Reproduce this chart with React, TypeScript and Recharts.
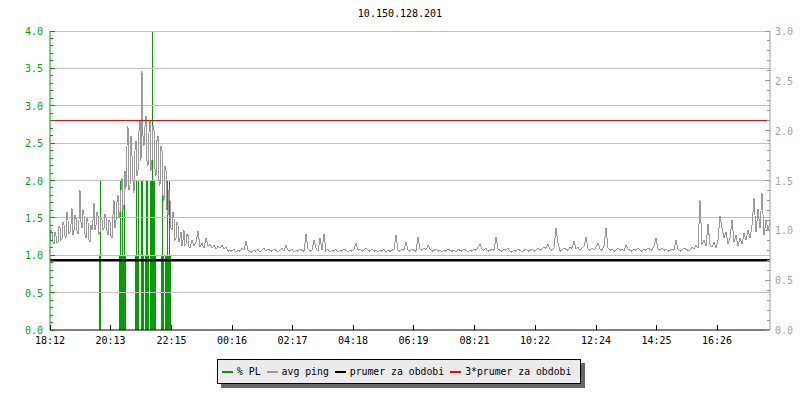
import React from "react";
import { ComposedChart, Bar, Line, XAxis, YAxis, ReferenceLine } from "recharts";

// avg ping (right axis). Busy evening read every 2 minutes, the rest every 4 minutes.
const pingEvening = [
  0.9, 1.0, 0.97, 0.88, 0.86, 0.98, 0.94, 0.87, 0.88, 1.04,
  1.02, 0.9, 0.91, 1.08, 1.05, 0.94, 0.93, 1.18, 1.1, 0.97,
  0.98, 1.06, 1.22, 0.95, 1.0, 1.15, 1.12, 0.99, 0.96, 1.1,
  1.4, 1.08, 1.02, 1.2, 1.15, 0.96, 0.92, 1.12, 1.08, 0.9,
  0.88, 1.05, 1.0, 1.1, 1.27, 1.0, 1.05, 1.18, 1.15, 0.96,
  0.98, 1.12, 1.1, 1.0, 1.02, 1.16, 1.12, 0.99, 0.95, 1.1,
  1.08, 0.94, 0.92, 1.15, 1.3, 1.02, 1.1, 1.28, 1.35, 1.12,
  1.18, 1.4, 1.52, 1.2, 1.25, 1.6, 1.42, 1.85, 2.05, 1.4,
  1.45, 1.95, 1.75, 1.5, 1.38, 1.8, 1.9, 1.55, 1.6, 2.0,
  2.1, 1.7, 2.6, 1.95, 1.85, 2.05, 2.15, 1.7, 1.65, 1.98,
  2.1, 1.6, 1.7, 2.05, 2.0, 1.62, 1.55, 1.9, 1.95, 1.5,
  1.45, 1.85, 1.8, 1.35, 1.3, 1.65, 1.6, 1.2, 1.15, 1.4,
  1.3, 1.02, 1.0, 1.18, 1.12, 0.9, 0.92, 1.08, 1.05, 0.88,
  0.92, 0.98, 0.84, 0.9, 1.0, 0.85, 0.86, 0.96, 0.95, 0.83,
  0.82,
];
const pingLateEvening = [
  0.9, 0.84, 0.88, 0.99, 0.83, 0.87, 0.82, 0.92, 0.84, 0.86,
  0.82, 0.85, 0.81, 0.84, 0.82, 0.85, 0.81, 0.83, 0.79, 0.8,
];
const pingNight = [
  0.79, 0.81, 0.78, 0.8, 0.79, 0.82, 0.8, 0.89, 0.8, 0.79,
  0.78, 0.8, 0.79, 0.81, 0.78, 0.8, 0.82, 0.79, 0.81, 0.8,
  0.79, 0.81, 0.8, 0.78, 0.8, 0.82, 0.79, 0.85, 0.8, 0.79,
  0.81, 0.78, 0.8, 0.79, 0.81, 0.8, 0.79, 0.96, 0.81, 0.79,
  0.8, 0.9, 0.82, 0.79, 0.92, 0.8, 0.96, 0.79, 0.81, 0.78,
  0.8, 0.79, 0.81, 0.78, 0.8, 0.79, 0.81, 0.8, 0.78, 0.8,
  0.79, 0.81, 0.87, 0.8, 0.81, 0.79, 0.8, 0.82, 0.8, 0.79,
  0.81, 0.79, 0.8, 0.78, 0.8, 0.79, 0.81, 0.78, 0.8, 0.79,
  0.8, 0.81, 0.95, 0.8, 0.79, 0.81, 0.8, 0.88, 0.8, 0.79,
  0.81, 0.8, 0.79, 0.93, 0.81, 0.8, 0.82, 0.8, 0.85, 0.81,
  0.79, 0.8, 0.81, 0.79, 0.8, 0.78, 0.8, 0.79, 0.81, 0.8,
  0.79, 0.8, 0.78, 0.81, 0.8, 0.79, 0.81, 0.8, 0.78, 0.8,
  0.79, 0.81, 0.8, 0.83, 0.86, 0.81, 0.8, 0.82, 0.79, 0.8,
  0.81, 0.8, 0.93, 0.81, 0.8, 0.79, 0.81, 0.8, 0.82, 0.79,
  0.78, 0.8, 0.79, 0.81, 0.8, 0.78, 0.8, 0.81, 0.79, 0.8,
  0.81, 0.79, 0.8, 0.82, 0.8, 0.81, 0.83, 0.82, 0.86, 0.81,
  0.8, 0.82, 1.02, 0.87, 0.79, 0.8, 0.82, 0.81, 0.8, 0.83,
  0.82, 0.89, 0.81, 0.83, 0.8, 0.82, 0.84, 0.93, 0.81, 0.8,
  0.82, 0.8, 0.83, 0.87, 0.81, 0.8, 0.84, 1.02, 0.82, 0.8,
  0.81, 0.79, 0.8, 0.82, 0.8, 0.81, 0.79, 0.85, 0.81, 0.8,
  0.79, 0.81, 0.8, 0.82, 0.8, 0.79, 0.81, 0.8, 0.82, 0.81,
  0.8, 0.84, 0.92, 0.81, 0.8, 0.82, 0.8, 0.81, 0.79, 0.8,
  0.81, 0.8, 0.9, 0.81, 0.79, 0.8, 0.82, 0.81, 0.8,
];
const pingDay = [
  0.8, 0.83, 0.81, 0.85, 0.82, 1.3, 0.86, 0.9, 0.84, 1.06,
  0.86, 0.83, 0.88, 0.82, 0.9, 1.14, 1.02, 0.92, 0.98, 0.86,
  0.92, 1.1, 0.88, 0.95, 0.84, 0.92, 0.86, 0.97, 0.9, 1.0,
  0.92, 1.05, 1.32, 0.98, 1.21, 1.02, 1.37, 0.95, 1.1, 1.0, 1.08,
];

// [start minute after 18:12, sampling step in minutes] for each block above
const pingBlocks: [number[], number, number][] = [
  [pingEvening, 0, 2],
  [pingLateEvening, 284, 4],
  [pingNight, 364, 4],
  [pingDay, 1280, 4],
];

// % packet loss (left axis), minutes from 18:12
const plMinutes = [
  99, 101,
  139, 141, 143, 145, 147, 149, 151,
  171, 173, 175, 177,
  183, 185, 187,
  191, 193, 195, 197,
  201, 203, 205, 207, 209, 211,
  223, 225, 227,
  231, 233, 235, 237, 239, 241,
];
const plValues = [
  1, 2,
  1, 2, 1, 2, 1, 2, 1,
  1, 2, 1, 2,
  2, 2, 1,
  1, 2, 2, 1,
  2, 2, 4, 2, 2, 1,
  1, 2, 1,
  1, 1, 2, 1, 2, 1,
];

const meanPing = 0.7;
const tripleMean = 2.1;

const xTickMinutes = [0, 121, 243, 364, 485, 606, 727, 849, 970, 1092, 1213, 1334];
const xTickLabels = ["18:12", "20:13", "22:15", "00:16", "02:17", "04:18", "06:19", "08:21", "10:22", "12:24", "14:25", "16:26"];
const leftTicks = Array.from({ length: 41 }, (_, i) => i / 10);
const rightTicks = Array.from({ length: 31 }, (_, i) => i / 10);
const gridValues = [0.5, 1, 1.5, 2, 2.5, 3, 3.5, 4];

const GREEN = "#00a000";
const GRAY = "#999999";
const FONT = "'DejaVu Sans Mono', monospace";

const rows: { t: number; ping?: number; pl?: number }[] = [
  ...pingBlocks.flatMap(([vals, start, step]) => vals.map((v, i) => ({ t: start + i * step, ping: v }))),
  ...plMinutes.map((t, i) => ({ t, pl: plValues[i] })),
].sort((a, b) => a.t - b.t);

const isMajor = (v: number) => Math.round(v * 10) % 5 === 0;

function LeftTick({ x, y, payload }: any) {
  const v = payload.value;
  const major = isMajor(v);
  return (
    <g>
      <line x1={x} x2={x + (major ? 5 : 3)} y1={y} y2={y} stroke={GREEN} shapeRendering="crispEdges" />
      {major && (
        <text x={x - 7} y={y} dy={4} textAnchor="end" fill={GREEN} fontSize={10} fontFamily={FONT}>
          {v.toFixed(1)}
        </text>
      )}
    </g>
  );
}

function RightTick({ x, y, payload }: any) {
  const v = payload.value;
  const major = isMajor(v);
  return (
    <g>
      <line x1={x} x2={x - (major ? 5 : 3)} y1={y} y2={y} stroke={GRAY} shapeRendering="crispEdges" />
      {major && (
        <text x={x + 5} y={y} dy={4} textAnchor="start" fill="#a0a0a0" fontSize={10} fontFamily={FONT}>
          {v.toFixed(1)}
        </text>
      )}
    </g>
  );
}

function TimeTick({ x, y, payload }: any) {
  const idx = xTickMinutes.indexOf(payload.value);
  return (
    <g>
      <line x1={x} x2={x} y1={y} y2={y - 5} stroke="#000" shapeRendering="crispEdges" />
      <text x={x} y={y + 14} textAnchor="middle" fill="#000" fontSize={10} fontFamily={FONT}>
        {xTickLabels[idx]}
      </text>
    </g>
  );
}

// 1px impulse for each loss sample
function LossBar({ x, y, width, height }: any) {
  if (!height || height <= 0) return null;
  const cx = x + width / 2;
  return <rect x={Math.floor(cx)} y={y} width={1} height={height} fill={GREEN} shapeRendering="crispEdges" />;
}

const legendItems = [
  { label: "% PL", color: GREEN },
  { label: "avg ping", color: GRAY },
  { label: "prumer za obdobi", color: "#000000" },
  { label: "3*prumer za obdobi", color: "#ff0000" },
];

export default function App() {
  return (
    <div style={{ position: "absolute", left: 0, top: 0, width: 800, height: 400, background: "#fff" }}>
      <div
        style={{
          position: "absolute",
          top: 8,
          left: 0,
          width: 800,
          textAlign: "center",
          fontFamily: FONT,
          fontSize: 10,
          lineHeight: "12px",
          color: "#000",
        }}
      >
        10.150.128.201
      </div>
      <ComposedChart width={800} height={400} data={rows} margin={{ top: 31, right: 0, left: 5, bottom: 50 }}>
        <XAxis
          dataKey="t"
          type="number"
          domain={[0, 1440]}
          ticks={xTickMinutes}
          interval={0}
          tickSize={0}
          tickMargin={0}
          height={20}
          axisLine={{ stroke: "#000" }}
          tick={<TimeTick />}
        />
        <YAxis
          yAxisId="left"
          domain={[0, 4]}
          ticks={leftTicks}
          interval={0}
          width={45}
          tickSize={0}
          tickMargin={0}
          axisLine={{ stroke: GREEN }}
          tick={<LeftTick />}
        />
        <YAxis
          yAxisId="right"
          orientation="right"
          domain={[0, 3]}
          ticks={rightTicks}
          interval={0}
          width={30}
          tickSize={0}
          tickMargin={0}
          axisLine={{ stroke: GRAY }}
          tick={<RightTick />}
        />
        {gridValues.map((v) => (
          <ReferenceLine key={v} yAxisId="left" y={v} stroke="#c0c0c0" shapeRendering="crispEdges" />
        ))}
        <Bar yAxisId="left" dataKey="pl" fill={GREEN} barSize={1} shape={<LossBar />} isAnimationActive={false} />
        <Line
          yAxisId="right"
          dataKey="ping"
          type="linear"
          stroke={GRAY}
          strokeWidth={1}
          shapeRendering="crispEdges"
          dot={false}
          connectNulls
          isAnimationActive={false}
        />
        <ReferenceLine yAxisId="right" y={meanPing} stroke="#000" strokeWidth={2.5} />
        <ReferenceLine yAxisId="right" y={tripleMean} stroke="#ff0000" strokeWidth={1} shapeRendering="crispEdges" />
      </ComposedChart>
      <div
        style={{
          position: "absolute",
          left: 217,
          top: 359,
          width: 364,
          height: 25,
          boxSizing: "border-box",
          background: "#ebebeb",
          border: "1px solid #000",
          boxShadow: "4px 4px 0 #666",
          display: "flex",
          alignItems: "center",
          paddingLeft: 4,
          fontFamily: FONT,
          fontSize: 9.8,
          color: "#000",
          whiteSpace: "nowrap",
        }}
      >
        {legendItems.map((it) => (
          <div key={it.label} style={{ display: "flex", alignItems: "center", marginRight: 6 }}>
            <span style={{ display: "inline-block", width: 11, height: 2, background: it.color, marginRight: 4 }} />
            <span>{it.label}</span>
          </div>
        ))}
      </div>
    </div>
  );
}
